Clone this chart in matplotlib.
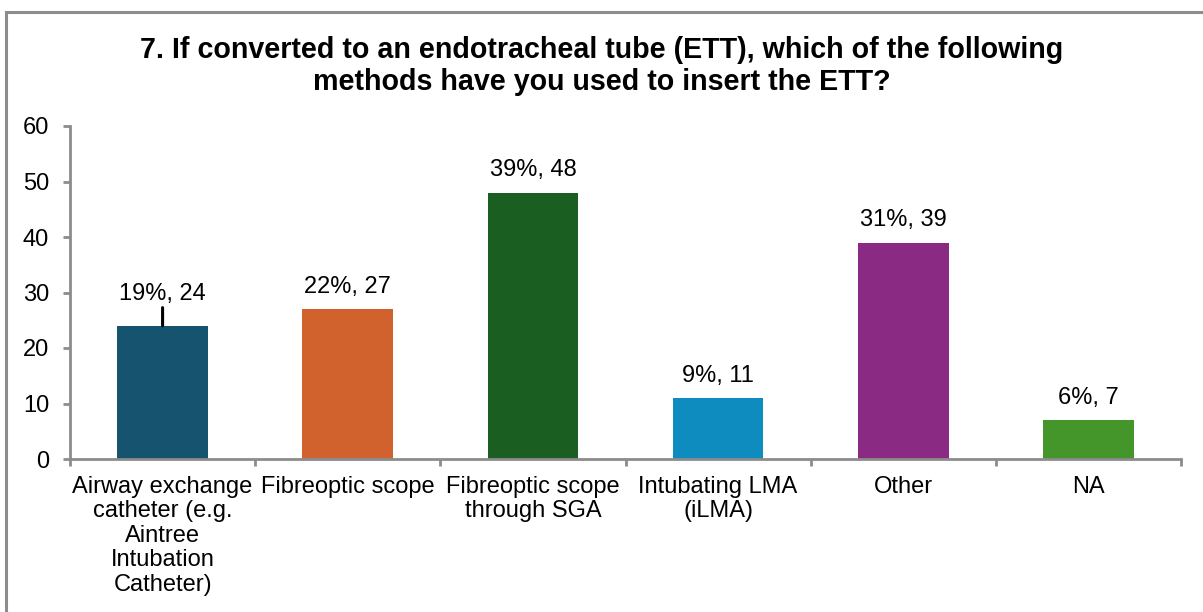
import matplotlib.pyplot as plt
from matplotlib.patches import Rectangle

categories = ['Airway exchange\ncatheter (e.g.\nAintree\nIntubation\nCatheter)',
              'Fibreoptic scope',
              'Fibreoptic scope\nthrough SGA',
              'Intubating LMA\n(iLMA)',
              'Other',
              'NA']
counts = [24, 27, 48, 11, 39, 7]
percents = [19, 22, 39, 9, 31, 6]
colors = ['#15536F', '#D2622D', '#1B5E22', '#0E8CBF', '#8B2A82', '#44952A']

plt.rcParams['font.family'] = ['Liberation Sans', 'DejaVu Sans']

fig = plt.figure(figsize=(12.03, 6.12), dpi=100)
ax = fig.add_axes([70 / 1203, 1 - 459 / 612, (1181 - 70) / 1203, (459 - 126) / 612])

# outer chart frame (bottom/right run off the page)
fig.patches.append(Rectangle((6 / 1203, -0.2), 1.2, 1.2 - 12 / 612 + 0.0,
                             transform=fig.transFigure, fill=False,
                             edgecolor='#8c8c8c', linewidth=2.2, clip_on=False))

x = list(range(len(categories)))
bars = ax.bar(x, counts, width=0.49, color=colors)

fs = 17
for i, (c, p) in enumerate(zip(counts, percents)):
    if i == 0:
        # this label was dragged up, so it gets a leader line
        ax.annotate(f'{p}%, {c}', xy=(i, c), xytext=(0, 23), textcoords='offset points',
                    ha='center', va='center', fontsize=fs,
                    arrowprops=dict(arrowstyle='-', color='black', lw=2.2,
                                    shrinkA=0, shrinkB=0))
    else:
        ax.annotate(f'{p}%, {c}', xy=(i, c), xytext=(0, 16), textcoords='offset points',
                    ha='center', va='center', fontsize=fs)

ax.set_xlim(-0.5, len(categories) - 0.5)
ax.set_ylim(0, 60)
ax.set_yticks(range(0, 61, 10))
ax.set_xticks([i - 0.5 for i in range(len(categories) + 1)], minor=False)
ax.set_xticklabels([])
ax.set_xticks(x, minor=True)
ax.set_xticklabels(categories, minor=True, fontsize=fs, linespacing=1.15, va='top')
ax.tick_params(axis='x', which='minor', length=0, pad=12)
ax.tick_params(axis='x', which='major', length=5, width=2, color='#8c8c8c', direction='out')
ax.tick_params(axis='y', length=5, width=2, color='#8c8c8c', labelsize=fs, pad=10)

for side in ['top', 'right']:
    ax.spines[side].set_visible(False)
for side in ['left', 'bottom']:
    ax.spines[side].set_color('#8c8c8c')
    ax.spines[side].set_linewidth(2)

fig.text(0.5, 1 - 50 / 612, '7. If converted to an endotracheal tube (ETT), which of the following',
         ha='center', va='center', fontsize=20.6, fontweight='bold')
fig.text(0.5, 1 - 82 / 612, 'methods have you used to insert the ETT?',
         ha='center', va='center', fontsize=20.6, fontweight='bold')

fig.savefig('out.png', dpi=100)
